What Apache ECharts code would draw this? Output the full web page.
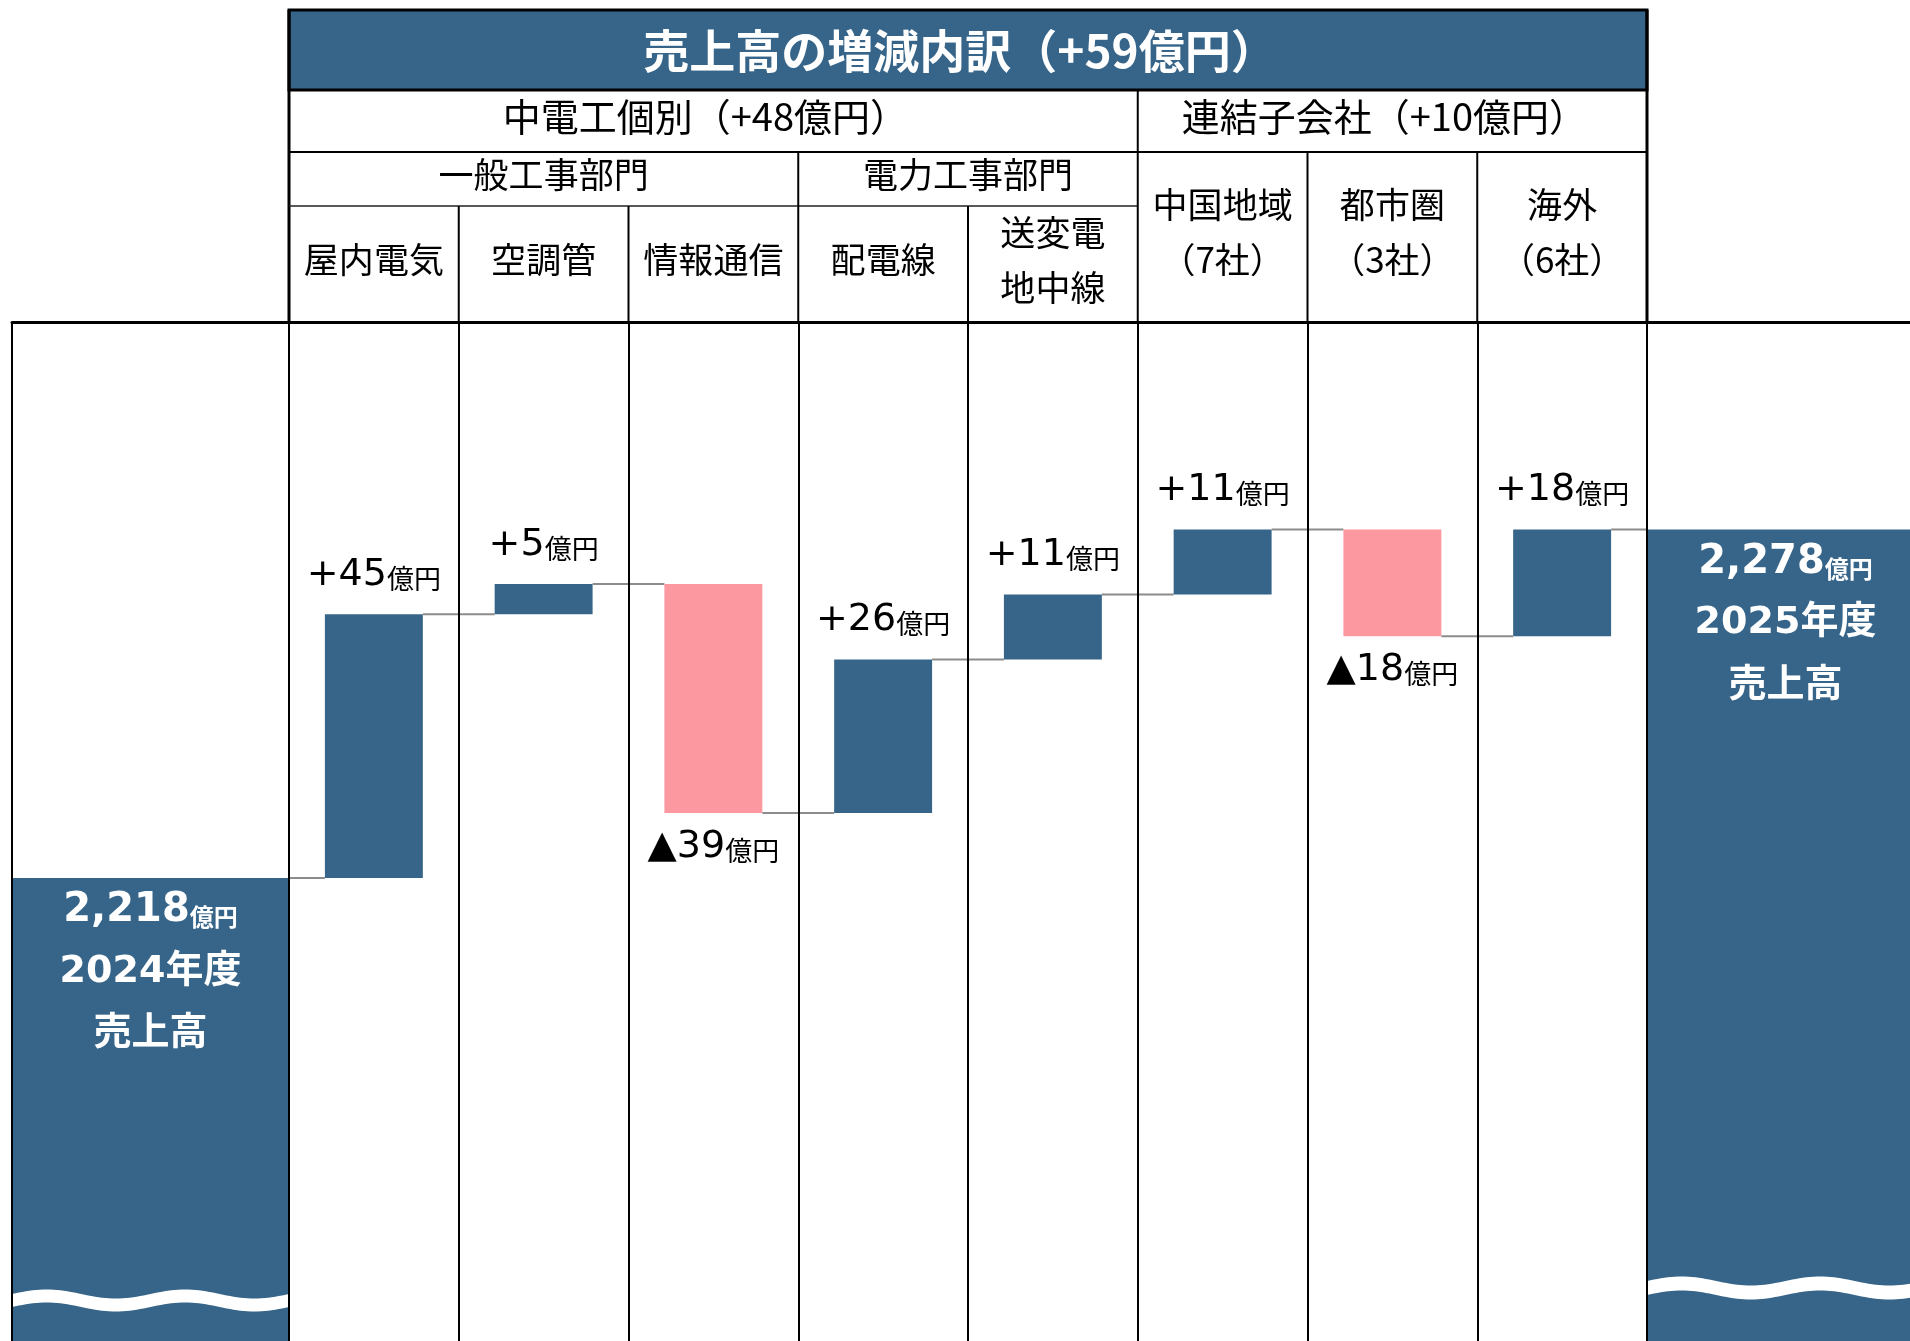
<!DOCTYPE html>
<html><head><meta charset="utf-8">
<script src="https://cdn.jsdelivr.net/npm/echarts@6/dist/echarts.min.js"></script>
<style>html,body{margin:0;padding:0;background:#fff}#c{width:1910px;height:1341px}</style>
</head><body><div id="c"></div>
<script>
// ---------------- data ----------------
const titleText = '売上高の増減内訳（+59億円）';
const groupLabels = ['中電工個別（+48億円）', '連結子会社（+10億円）'];
const subGroupLabels = ['一般工事部門', '電力工事部門'];
const categories = ['屋内電気', '空調管', '情報通信', '配電線', '送変電\n地中線', '中国地域\n（7社）', '都市圏\n（3社）', '海外\n（6社）'];
const deltas = [45.4, 5.2, -39.4, 26.4, 11.2, 11.2, -18.4, 18.4];
const totalYears = ['2024年度', '2025年度'];
const totals = [2218, 2278];
const totalCaption = '売上高';
const unitText = '億円';

// ---------------- styling / layout ----------------
const BLUE = '#366589', PINK = '#FB98A0', GRAY = '#8c8c8c';
const CJK = '"Noto Sans CJK JP"';
const NUM = '"DejaVu Sans", "Noto Sans CJK JP"';
const HEAD_TOP = 10, TITLE_B = 90, ROW2_B = 152, ROW3_B = 206, HEAD_B = 322;
const MID_L = 289, MID_W = 1358, SIDE_W = 277;
const Y_MIN = 2138.3, Y_MAX = 2313.7;

// waterfall rows built from deltas
const wfData = [];
let run = totals[0];
deltas.forEach((d, i) => { wfData.push([i, run, run + d, d]); run += d; });

function wavePoints(x0, x1, yc, amp, thick, phase) {
  const half = (x1 - x0) / 2, top = [], bot = [], n = 80;
  for (let k = 0; k <= n; k++) {
    const x = x0 + (x1 - x0) * k / n;
    const y = yc - amp * Math.sin(2 * Math.PI * ((x - x0) / half + phase));
    top.push([x, y]); bot.push([x, y + thick]);
  }
  return top.concat(bot.reverse());
}

function makeTotalRender(idx, waveOff, thick) {
  return function (params, api) {
    const cs = params.coordSys;
    const p = api.coord([0, api.value(1)]);
    const x0 = cs.x, x1 = cs.x + SIDE_W, yb = cs.y + cs.height, cx = (x0 + x1) / 2;
    const top = p[1];
    const val = api.value(1).toLocaleString('en-US');
    return {
      type: 'group',
      children: [
        { type: 'rect', shape: { x: x0, y: top, width: x1 - x0, height: yb - top }, style: { fill: BLUE } },
        { type: 'polygon', shape: { points: wavePoints(x0, x1, yb - waveOff, 4.5, thick, 0) }, style: { fill: '#fff' } },
        { type: 'text', style: {
            text: '{v|' + val + '}{u|' + unitText + '}', x: cx, y: top + 33, align: 'center', verticalAlign: 'middle', fill: '#fff',
            rich: { v: { fontSize: 40, fontWeight: 'bold', fontFamily: NUM, fill: '#fff', verticalAlign: 'bottom' },
                    u: { fontSize: 24, fontWeight: 'bold', fontFamily: CJK, fill: '#fff', verticalAlign: 'bottom', padding: [0, 0, 2, 0] } } } },
        { type: 'text', style: { text: totalYears[idx], x: cx, y: top + 94, align: 'center', verticalAlign: 'middle', fill: '#fff',
            font: 'bold 38px ' + NUM } },
        { type: 'text', style: { text: totalCaption, x: cx, y: top + 152, align: 'center', verticalAlign: 'middle', fill: '#fff',
            font: 'bold 38px ' + CJK } }
      ]
    };
  };
}

function renderWaterfall(params, api) {
  const i = api.value(0), base = api.value(1), end = api.value(2), d = api.value(3);
  const pb = api.coord([i, base]), pe = api.coord([i, end]);
  const band = api.size([1, 0])[0];
  const bw = band * 0.577;
  const cx = pb[0];
  const yTop = Math.min(pb[1], pe[1]), yBot = Math.max(pb[1], pe[1]);
  const up = d >= 0;
  const n = wfData.length;
  const children = [
    { type: 'rect', shape: { x: cx - bw / 2, y: yTop, width: bw, height: yBot - yTop }, style: { fill: up ? BLUE : PINK } }
  ];
  if (i === 0) {
    children.push({ type: 'line', shape: { x1: cx - band / 2, y1: pb[1], x2: cx - bw / 2, y2: pb[1] }, style: { stroke: GRAY, lineWidth: 2 } });
  }
  const xEnd = i < n - 1 ? cx + band - bw / 2 : cx + band / 2;
  children.push({ type: 'line', shape: { x1: cx + bw / 2, y1: pe[1], x2: xEnd, y2: pe[1] }, style: { stroke: GRAY, lineWidth: 2 } });
  const num = (up ? '+' : '▲') + Math.round(Math.abs(d));
  children.push({ type: 'text', style: {
    text: '{v|' + num + '}{u|' + unitText + '}', x: cx, y: up ? yTop - 39 : yBot + 34,
    align: 'center', verticalAlign: 'middle', fill: '#000',
    rich: { v: { fontSize: 38, fontFamily: NUM, fill: '#000', verticalAlign: 'bottom' },
            u: { fontSize: 27, fontFamily: CJK, fill: '#000', verticalAlign: 'bottom', padding: [0, 0, 2, 0] } } } });
  return { type: 'group', children };
}

// ---------------- header table (graphic) ----------------
const colW = MID_W / categories.length;
const bx = k => MID_L + k * colW;
const gfx = [];
function hline(x1, x2, y, w, c) { gfx.push({ type: 'line', shape: { x1, y1: y, x2, y2: y }, style: { stroke: c || '#000', lineWidth: w }, z: 100 }); }
function vline(x, y1, y2, w) { gfx.push({ type: 'line', shape: { x1: x, y1, x2: x, y2 }, style: { stroke: '#000', lineWidth: w }, z: 100 }); }
function htext(t, x, y, size, weight, fill, lh) {
  gfx.push({ type: 'text', z: 101, style: { text: t, x, y, align: 'center', verticalAlign: 'middle', fill: fill || '#000',
    font: (weight || 'normal') + ' ' + size + 'px ' + CJK, lineHeight: lh || size * 1.3 } });
}
gfx.push({ type: 'rect', z: 100, shape: { x: MID_L, y: HEAD_TOP, width: MID_W, height: TITLE_B - HEAD_TOP }, style: { fill: BLUE, stroke: '#000', lineWidth: 3 } });
htext(titleText, MID_L + MID_W / 2 - 8, (HEAD_TOP + TITLE_B) / 2 + 1, 46, 'bold', '#fff');
vline(MID_L, HEAD_TOP, HEAD_B, 3);
vline(MID_L + MID_W, HEAD_TOP, HEAD_B, 3);
hline(MID_L, MID_L + MID_W, ROW2_B, 2);
hline(MID_L, bx(5), ROW3_B, 1.5, '#222');
vline(bx(5), TITLE_B, HEAD_B, 2);
vline(bx(3), ROW2_B, HEAD_B, 2);
[1, 2, 4].forEach(k => vline(bx(k), ROW3_B, HEAD_B, 2));
[6, 7].forEach(k => vline(bx(k), ROW2_B, HEAD_B, 2));
htext(groupLabels[0], (bx(0) + bx(5)) / 2 - 8, 117, 38);
htext(groupLabels[1], (bx(5) + bx(8)) / 2 - 8, 117, 38);
htext(subGroupLabels[0], (bx(0) + bx(3)) / 2, 175, 35);
htext(subGroupLabels[1], (bx(3) + bx(5)) / 2, 175, 35);
categories.forEach((c, k) => {
  const cy = k < 5 ? 260 : 232;
  htext(c, bx(k) + colW / 2, cy, 35, 'normal', '#000', 55);
});

// ---------------- chart ----------------
const chart = echarts.init(document.getElementById('c'), null, { renderer: 'canvas' });
function xa(gi, data, showMax) {
  return { gridIndex: gi, type: 'category', data, position: 'top', z: 10,
    axisLine: { show: true, onZero: false, lineStyle: { color: '#000', width: 3 } },
    axisTick: { show: false }, axisLabel: { show: false, interval: 0 },
    splitLine: { show: true, interval: 0, showMaxLine: showMax, lineStyle: { color: '#000', width: 2 } } };
}
function ya(gi) { return { gridIndex: gi, type: 'value', min: Y_MIN, max: Y_MAX, show: false, splitLine: { show: false } }; }
chart.setOption({
  animation: false,
  backgroundColor: '#fff',
  grid: [
    { left: 12, width: SIDE_W, top: HEAD_B, bottom: 0 },
    { left: MID_L, width: MID_W, top: HEAD_B, bottom: 0 },
    { left: MID_L + MID_W, right: 0, top: HEAD_B, bottom: 0 }
  ],
  xAxis: [xa(0, [totalYears[0]], true), xa(1, categories, true), xa(2, [totalYears[1]], false)],
  yAxis: [ya(0), ya(1), ya(2)],
  graphic: gfx,
  series: [
    { type: 'custom', xAxisIndex: 0, yAxisIndex: 0, z: 2, data: [[0, totals[0]]], encode: { x: 0, y: 1 }, renderItem: makeTotalRender(0, 47, 13) },
    { type: 'custom', xAxisIndex: 1, yAxisIndex: 1, z: 2, data: wfData, encode: { x: 0, y: [1, 2] }, renderItem: renderWaterfall },
    { type: 'custom', xAxisIndex: 2, yAxisIndex: 2, z: 2, data: [[0, totals[1]]], encode: { x: 0, y: 1 }, renderItem: makeTotalRender(1, 60, 14) }
  ]
});
</script>
</body></html>
